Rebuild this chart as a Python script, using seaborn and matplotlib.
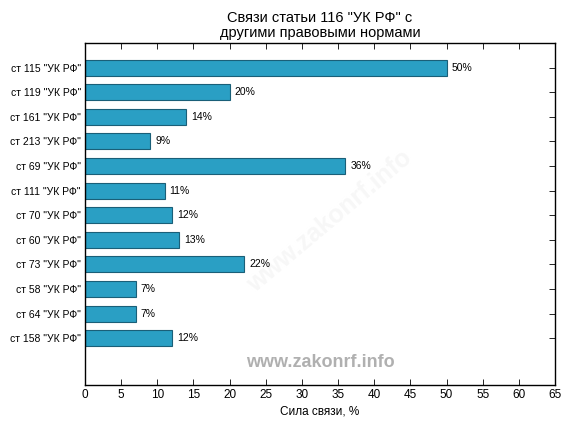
import matplotlib
matplotlib.use("Agg")
import matplotlib.pyplot as plt
import seaborn as sns
import pandas as pd

categories = ['ст 115 "УК РФ"', 'ст 119 "УК РФ"', 'ст 161 "УК РФ"', 'ст 213 "УК РФ"',
              'ст 69 "УК РФ"', 'ст 111 "УК РФ"', 'ст 70 "УК РФ"', 'ст 60 "УК РФ"',
              'ст 73 "УК РФ"', 'ст 58 "УК РФ"', 'ст 64 "УК РФ"', 'ст 158 "УК РФ"']
values = [50, 20, 14, 9, 36, 11, 12, 13, 22, 7, 7, 12]
xticks = list(range(0, 70, 5))

df = pd.DataFrame({"cat": categories, "val": values})

sns.set_style("white")
plt.rcParams['font.family'] = ['Liberation Sans', 'DejaVu Sans']
plt.rcParams['text.color'] = 'black'
plt.rcParams['axes.labelcolor'] = 'black'
plt.rcParams['xtick.color'] = 'black'
plt.rcParams['ytick.color'] = 'black'

fig = plt.figure(figsize=(5.76, 4.32), dpi=100)
ax = fig.add_axes([85/576, 1-385/432, 470/576, 342/432])
sns.barplot(data=df, x="val", y="cat", orient="h", color="#2a9fc4", saturation=1,
            width=0.65, edgecolor="#1a5f78", linewidth=0.8, ax=ax)
ax.set_xlim(0, 65)
ax.set_ylim(12.9, -1.0)
ax.set_xticks(xticks)
ax.tick_params(axis='y', labelsize=7.5)
ax.tick_params(axis='x', labelsize=8.5)
ax.tick_params(axis='both', direction='in', length=4, width=0.6,
               top=True, right=True, bottom=True, left=True, pad=3)
for s in ax.spines.values():
    s.set_linewidth(1.0)
    s.set_color("black")
ax.set_ylabel("")
ax.set_xlabel("Сила связи, %", fontsize=8.5, labelpad=3)
for i, v in enumerate(values):
    ax.text(v + 0.7, i, f"{v}%", va="center", ha="left", fontsize=7.5)
ax.set_title('Связи статьи 116 "УК РФ" с\nдругими правовыми нормами', fontsize=10.5, pad=4, linespacing=1.1)
ax.text(0.5, 0.04, "www.zakonrf.info", transform=ax.transAxes, ha="center", va="bottom",
        fontsize=13, fontweight="bold", color="#b0b0b0")
ax.text(0.52, 0.48, "www.zakonrf.info", transform=ax.transAxes, ha="center", va="center",
        fontsize=18, fontweight="bold", color="#f7f7f7", rotation=40, zorder=0)
fig.savefig("out.png", dpi=100)
